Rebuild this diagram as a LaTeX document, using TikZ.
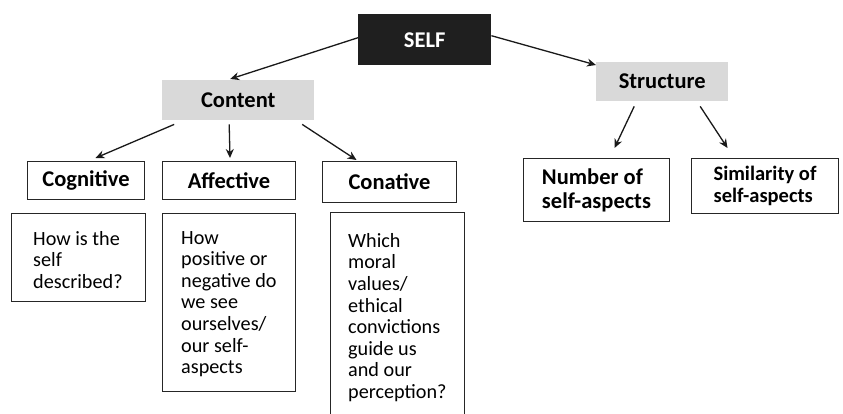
\documentclass[tikz,border=0pt]{standalone}
\usepackage{fontspec}
\setmainfont{Carlito}
\usetikzlibrary{arrows.meta}
\begin{document}
\begin{tikzpicture}[x=1pt,y=-1pt,
  box/.style={draw=black!85, line width=1pt, anchor=north west, inner sep=0pt, fill=white},
  titlebox/.style={box, font=\bfseries\fontsize{22.5}{24}\selectfont, align=center},
  greybox/.style={fill=black!15, anchor=north west, inner sep=0pt, font=\bfseries\fontsize{22.5}{24}\selectfont},
  desctext/.style={anchor=north west, inner sep=0pt, align=left, font=\fontsize{20.2}{21.6}\selectfont},
  arr/.style={-{Stealth[length=9pt,width=8pt]}, line width=1.3pt, black!90}
]
\useasboundingbox (0,0) rectangle (843,413);

% top
\node[anchor=north west, fill=black!88, text=white, inner sep=0pt, minimum width=133pt, minimum height=51pt, font=\bfseries\fontsize{22.5}{24}\selectfont] (self) at (358,14) {SELF};
\node[greybox, minimum width=152pt, minimum height=40pt] (content) at (162,80) {Content};
\node[greybox, minimum width=132pt, minimum height=39pt] (structure) at (596,62) {Structure};

% second level
\node[titlebox, minimum width=117pt, minimum height=38pt] (cog) at (27,161) {Cognitive};
\node[titlebox, minimum width=133pt, minimum height=38pt] (aff) at (162,161) {Affective};
\node[titlebox, minimum width=134pt, minimum height=41pt] (con) at (322,161) {Conative};
\node[titlebox, align=left, minimum width=146pt, minimum height=63pt] (num) at (523,158) {Number of\\self-aspects};
\node[box, align=left, minimum width=147pt, minimum height=55pt, font=\bfseries\fontsize{20.5}{22}\selectfont] (sim) at (691,158) {Similarity of\\self-aspects};

% descriptions
\node[box, minimum width=134pt, minimum height=88pt] (d1) at (11,213) {};
\node[desctext] (t1) at ([xshift=22pt,yshift=-18pt]d1.north west) {How is the\\self\\described?};
\node[box, minimum width=133pt, minimum height=178pt] (d2) at (162,213) {};
\node[desctext] (t2) at ([xshift=19pt,yshift=-18pt]d2.north west) {How\\positive or\\negative do\\we see\\ourselves/\\our self-\\aspects};
\node[box, minimum width=134pt, minimum height=202pt] (d3) at (330,212) {};
\node[desctext] (t3) at ([xshift=18pt,yshift=-21pt]d3.north west) {Which\\moral\\values/\\ethical\\convictions\\guide us\\and our\\perception?};

% arrows
\draw[arr] ([yshift=2pt]self.west) -- ([xshift=-8pt,yshift=1pt]content.north);
\draw[arr] ([yshift=4pt]self.east) -- ([yshift=-3pt]structure.north west);
\draw[arr] ([xshift=-64pt,yshift=-4pt]content.south) -- ([xshift=9.5pt,yshift=3pt]cog.north);
\draw[arr] ([xshift=-9pt,yshift=-4pt]content.south) -- ([xshift=1pt,yshift=3pt]aff.north);
\draw[arr] ([xshift=64pt,yshift=-4pt]content.south) -- ([xshift=-33pt,yshift=1pt]con.north);
\draw[arr] ([xshift=-28pt,yshift=-5pt]structure.south) -- ([xshift=18pt,yshift=10pt]num.north);
\draw[arr] ([xshift=38pt,yshift=-5pt]structure.south) -- ([xshift=-37.5pt,yshift=10pt]sim.north);
\end{tikzpicture}
\end{document}
